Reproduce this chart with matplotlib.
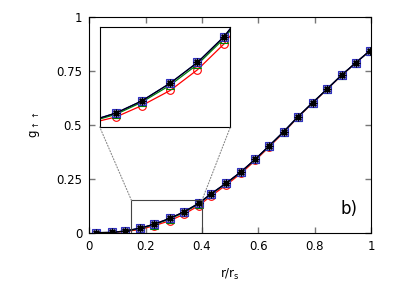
import matplotlib
matplotlib.use("Agg")
import matplotlib.pyplot as plt
from matplotlib.patches import Rectangle, ConnectionPatch

# data (r/r_s vs g_up-up)
r = [0.025, 0.080, 0.128, 0.181, 0.230, 0.285, 0.337, 0.388, 0.433, 0.487,
     0.538, 0.589, 0.639, 0.690, 0.741, 0.793, 0.844, 0.895, 0.946, 0.996]
g_red = [0.0, 0.0005, 0.005, 0.015, 0.032, 0.055, 0.086, 0.125, 0.171, 0.222,
         0.275, 0.335, 0.399, 0.465, 0.536, 0.602, 0.666, 0.730, 0.789, 0.845]
g_green = [0.0, 0.001, 0.007, 0.019, 0.037, 0.063, 0.094, 0.133, 0.179, 0.229,
           0.281, 0.340, 0.403, 0.468, 0.538, 0.604, 0.667, 0.731, 0.789, 0.845]
g_blue = [0.0, 0.001, 0.008, 0.021, 0.039, 0.066, 0.097, 0.136, 0.181, 0.231,
          0.282, 0.341, 0.404, 0.469, 0.539, 0.604, 0.667, 0.731, 0.789, 0.845]
g_black = [0.0, 0.001, 0.008, 0.021, 0.039, 0.066, 0.097, 0.136, 0.181, 0.231,
           0.282, 0.341, 0.404, 0.469, 0.539, 0.604, 0.667, 0.731, 0.789, 0.845]

xticks = [0, 0.2, 0.4, 0.6, 0.8, 1]
xticklabels = ["0", "0.2", "0.4", "0.6", "0.8", "1"]
yticks = [0, 0.25, 0.5, 0.75, 1]
yticklabels = ["0", "0.25", "0.5", "0.75", "1"]

zoom_x = (0.15, 0.40)
zoom_y = (0.0, 0.15)

plt.rcParams["font.family"] = "DejaVu Sans"
plt.rcParams["font.size"] = 8.5


def draw_series(ax, ms):
    ax.plot(r, g_red, color="red", lw=0.9, marker="o", ms=ms, mfc="none", mec="red", mew=0.8)
    ax.plot(r, g_green, color="green", lw=0.9, marker="^", ms=ms, mfc="none", mec="green", mew=0.8)
    ax.plot(r, g_blue, color="blue", lw=0.9, marker="s", ms=ms, mfc="#9a9ae8", mec="#3030c0", mew=0.8)
    ax.plot(r, g_black, color="black", lw=0.9, marker=(8, 2, 0), ms=ms, mec="black", mew=0.9)


fig = plt.figure(figsize=(4.07, 2.96), dpi=100)
ax = fig.add_axes([0.219, 0.214, 0.693, 0.728])
draw_series(ax, 5.5)
ax.set_xlim(0, 1)
ax.set_ylim(0, 1)
ax.set_xticks(xticks)
ax.set_xticklabels(xticklabels)
ax.set_yticks(yticks)
ax.set_yticklabels(yticklabels)
ax.tick_params(direction="in", length=4, width=1, color="#777777",
               top=True, right=True, pad=5)
ax.set_xlabel("r/r$_\\mathrm{s}$", labelpad=10)
ax.set_ylabel("g$_{\\uparrow\\uparrow}$", labelpad=10)
ax.text(0.89, 0.085, "b)", transform=ax.transAxes, fontsize=12)

# zoom box
ax.add_patch(Rectangle((zoom_x[0], zoom_y[0]), zoom_x[1] - zoom_x[0], zoom_y[1] - zoom_y[0],
                       fill=False, ec="#444444", lw=0.8, zorder=5))

axins = fig.add_axes([0.245, 0.571, 0.321, 0.337])
draw_series(axins, 5.5)
axins.set_xlim(*zoom_x)
axins.set_ylim(*zoom_y)
axins.set_xticks([])
axins.set_yticks([])

for (xa, ya), (xb, yb) in [((zoom_x[0], zoom_y[1]), (0, 0)), ((zoom_x[1], zoom_y[1]), (1, 0))]:
    con = ConnectionPatch(xyA=(xa, ya), coordsA=ax.transData,
                          xyB=(xb, yb), coordsB=axins.transAxes,
                          ls=":", color="#888888", lw=0.8)
    fig.add_artist(con)

fig.savefig("out.png", dpi=100)
